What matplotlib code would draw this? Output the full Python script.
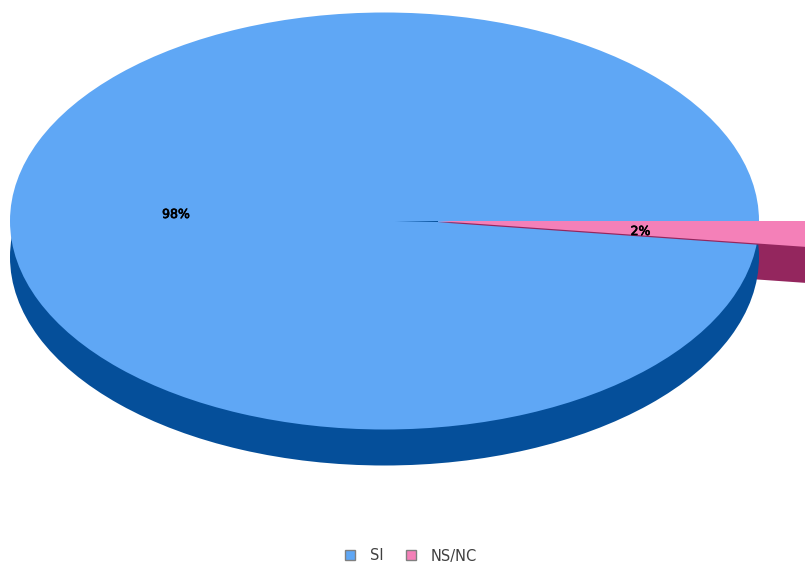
import matplotlib
matplotlib.use("Agg")
import matplotlib.pyplot as plt
from matplotlib.patches import Patch
import matplotlib.patheffects as pe

categories = ["SI", "NS/NC"]
values = [98, 2]
labels = ["98%", "2%"]

W, H = 805, 566
cx, cy, rx, ry = 384.5, 221.0, 374.5, 208.5
depth = 36.0
offset = 53.0
BLUE, BLUE_D = "#5FA7F5", "#054F9A"
PINK, PINK_D = "#F480B8", "#94265E"

fig = plt.figure(figsize=(W / 100, H / 100), dpi=100)
ax = fig.add_axes([0, 0, 1, 1])
ox = offset / rx
dy = depth / ry

# pink side wall: stacked copies fill the band below the slice edge
for frac in (0.0, 0.25, 0.5, 0.75, 1.0):
    w, _ = ax.pie(values, colors=["none", PINK_D], startangle=0)
    w[1].set_center((ox, -dy * frac))
# blue side wall
ax.pie([sum(values)], colors=[BLUE_D], startangle=0, center=(0, -dy))
# blue top, closed over the gap
ax.pie([sum(values)], colors=[BLUE], startangle=0)
# thin dark line under the pink edge, then pink top
w, _ = ax.pie(values, colors=["none", PINK_D], startangle=0)
w[1].set_center((ox, -1.2 / ry))
w, _ = ax.pie(values, colors=["none", PINK], startangle=0)
w[1].set_center((ox, 0))
# dark blue sliver leading to the pink apex
ax.fill([(395 - cx) / rx, ox, ox], [0, 0, -1.4 / ry], color=BLUE_D, lw=0)

ax.set_aspect("auto")
ax.set_xlim(-cx / rx, (W - cx) / rx)
ax.set_ylim((cy - H) / ry, cy / ry)
ax.axis("off")

stroke = [pe.withStroke(linewidth=0.5, foreground="black")]
for (px, py), s in zip([(176, 214.5), (640.5, 231.5)], labels):
    fig.text(px / W, 1 - py / H, s, ha="center", va="center", fontsize=9,
             color="black", path_effects=stroke)

handles = [Patch(facecolor=c, edgecolor="#808080", linewidth=1) for c in (BLUE, PINK)]
fig.legend(handles, categories, ncol=2, loc="center", frameon=False,
           bbox_to_anchor=(411 / W, 1 - 556 / H), fontsize=10.5,
           handlelength=0.68, handleheight=0.68, handletextpad=1.0,
           columnspacing=1.55, labelcolor="#404040")

fig.savefig("out.png", dpi=100)
